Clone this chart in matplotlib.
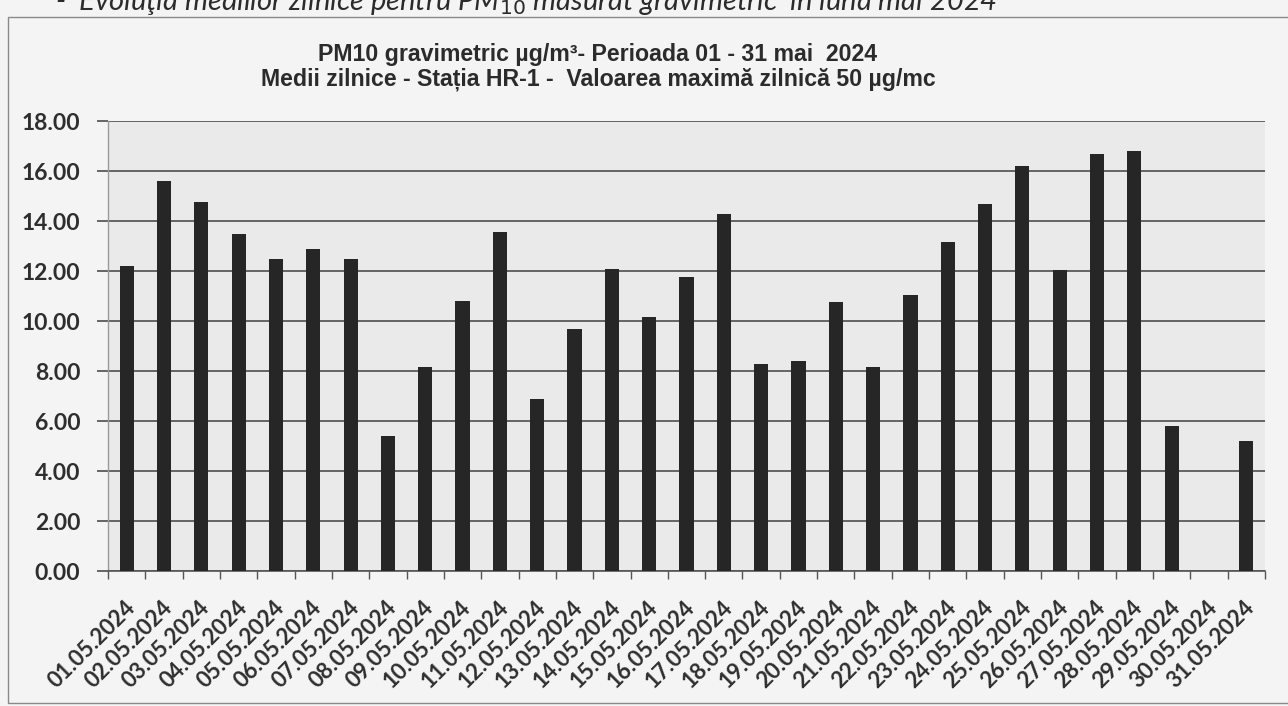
import numpy as np
import matplotlib
matplotlib.use('Agg')
import matplotlib.pyplot as plt
from matplotlib.patches import Rectangle
from matplotlib.transforms import ScaledTranslation

# daily PM10 averages, May 2024 (30.05 missing)
days = ['%02d.05.2024' % d for d in range(1, 32)]
pm10 = [12.2, 15.6, 14.75, 13.5, 12.5, 12.9, 12.5, 5.4, 8.15, 10.8,
        13.55, 6.9, 9.7, 12.1, 10.15, 11.75, 14.3, 8.3, 8.4, 10.75,
        8.15, 11.05, 13.15, 14.7, 16.2, 12.05, 16.7, 16.8, 5.8, np.nan, 5.2]
yticks = np.arange(0, 18.01, 2)

top_text = u'-  Evolu\u0163ia mediilor zilnice pentru PM$_{10}$ m\u0103surat gravimetric  \u00een luna mai 2024'
title1 = u'PM10 gravimetric \u00b5g/m\u00b3- Perioada 01 - 31 mai  2024'
title2 = u'Medii zilnice - Sta\u021bia HR-1 -  Valoarea maxim\u0103 zilnic\u0103 50 \u00b5g/mc'

W, H = 1288, 706
fig = plt.figure(figsize=(W/100, H/100), dpi=100)
fig.set_facecolor('#f4f4f4')

def fx(px): return px/W
def fy(py): return 1 - py/H

ax = fig.add_axes([fx(108), fy(571), fx(1265)-fx(108), fy(121)-fy(571)])
ax.set_facecolor('#eaeaea')

x = np.arange(len(days))
ax.bar(x, pm10, width=0.38, color='#262626', zorder=3)

ax.set_xlim(-0.5, len(days)-0.5)
ax.set_ylim(0, 18)
ax.set_yticks(yticks)
ax.set_yticklabels(['%.2f' % v for v in yticks])
ax.yaxis.grid(True, color='#4d4d4d', lw=1.2, zorder=1)
ax.set_axisbelow(True)

ax.set_xticks(x)
ax.set_xticklabels(days)
ax.set_xticks(np.arange(-0.5, len(days), 1), minor=True)
ax.tick_params(axis='x', which='major', length=0, pad=24)
ax.tick_params(axis='x', which='minor', length=6, width=1, color='#555555', direction='out')
ax.tick_params(axis='y', length=8, width=1.2, color='#4d4d4d', pad=12)
shift = ScaledTranslation(5/100, 0, fig.dpi_scale_trans)
for lab in ax.get_xticklabels():
    lab.set_rotation(45)
    lab.set_ha('right')
    lab.set_va('center')
    lab.set_rotation_mode('anchor')
    lab.set_fontfamily('Lato')
    lab.set_fontweight('bold')
    lab.set_fontsize(16)
    lab.set_color('#2e2e2e')
    lab.set_transform(lab.get_transform() + shift)
for lab in ax.get_yticklabels():
    lab.set_fontfamily('Lato')
    lab.set_fontweight('bold')
    lab.set_fontsize(16.5)
    lab.set_color('#2e2e2e')

for s in ['top', 'right']:
    ax.spines[s].set_visible(False)
ax.spines['left'].set_color('#9a9a9a')
ax.spines['left'].set_linewidth(1)
ax.spines['bottom'].set_color('#555555')
ax.spines['bottom'].set_linewidth(1.2)

# chart area border
fig.patches.append(Rectangle((fx(8), fy(703)), fx(1300)-fx(8), fy(17)-fy(703),
                             transform=fig.transFigure, fill=False,
                             ec='#8a8a8a', lw=1, zorder=0))

fig.text(fx(598), fy(55), title1, ha='center', va='center', fontsize=16.7,
         fontweight='bold', family=['Liberation Sans', 'DejaVu Sans'], color='#2b2b2b')
fig.text(fx(598), fy(79), title2, ha='center', va='center', fontsize=16.7,
         fontweight='bold', family=['Liberation Sans', 'DejaVu Sans'], color='#2b2b2b')

fig.text(fx(55), fy(10), top_text, ha='left', va='baseline', fontsize=21,
         style='italic', family=['Lato', 'DejaVu Sans'], color='#2b2b2b')

fig.savefig('out.png', dpi=100, facecolor=fig.get_facecolor())
